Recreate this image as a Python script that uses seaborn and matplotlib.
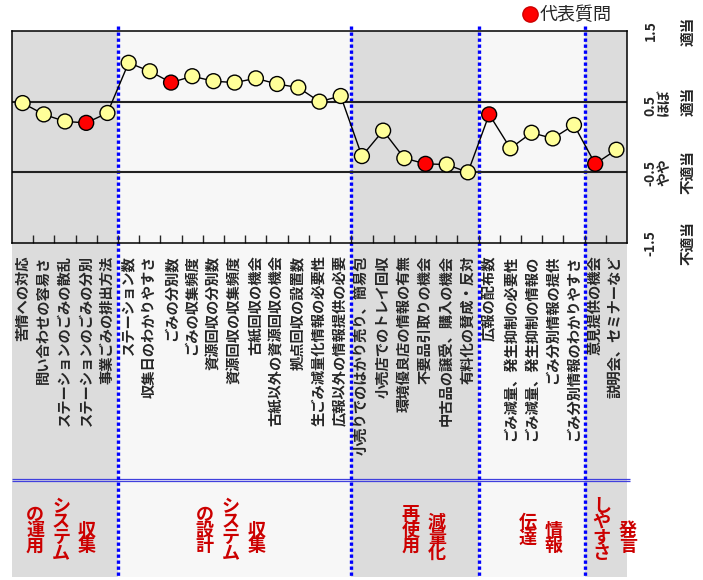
import numpy as np
import pandas as pd
import seaborn as sns
import matplotlib.pyplot as plt
from matplotlib.lines import Line2D

# questionnaire items (x axis), in plotting order
items = [
    "苦情への対応", "問い合わせの容易さ", "ステーションのごみの散乱", "ステーションのごみの分別", "事業ごみの排出方法",
    "ステーション数", "収集日のわかりやすさ", "ごみの分別数", "ごみの収集頻度", "資源回収の分別数",
    "資源回収の収集頻度", "古紙回収の機会", "古紙以外の資源回収の機会", "拠点回収の設置数",
    "生ごみ減量化情報の必要性", "広報以外の情報提供の必要",
    "小売りでのはかり売り、簡易包", "小売店でのトレイ回収", "環境優良店の情報の有無", "不要品引取りの機会",
    "中古品の譲受、購入の機会", "有料化の賛成・反対",
    "広報の配布数", "ごみ減量、発生抑制の必要性", "ごみ減量、発生抑制の情報の", "ごみ分別情報の提供",
    "ごみ分別情報のわかりやすさ",
    "意見提供の機会", "説明会、セミナーなど",
]
scores = [
    0.48, 0.32, 0.22, 0.20, 0.34,
    1.05, 0.93, 0.77, 0.86, 0.79, 0.77, 0.83, 0.75, 0.70, 0.50, 0.58,
    -0.27, 0.09, -0.30, -0.38, -0.39, -0.50,
    0.32, -0.16, 0.06, -0.02, 0.17,
    -0.38, -0.18,
]
representative = [
    False, False, False, True, False,
    False, False, True, False, False, False, False, False, False, False, False,
    False, False, False, True, False, False,
    True, False, False, False, False,
    True, False,
]

# groups: vertical label columns (right to left) and number of items
group_columns = [["収集", "システム", "の運用"], ["収集", "システム", "の設計"],
                 ["減量化", "再使用"], ["情報", "伝達"], ["発言", "しやすさ"]]
group_sizes = [5, 11, 6, 5, 2]

scale_ticks = [1.5, 0.5, -0.5, -1.5]
scale_numbers = ["1.5", "0.5\nほぼ", "-0.5\nやや", "-1.5"]
scale_words = ["適当", "適当", "不適当", "不適当"]

sns.set_style("white")
plt.rcParams["font.family"] = ["Noto Sans CJK JP", "DejaVu Sans"]

W, H = 703, 580


def box(x0, y0, x1, y1):
    return [x0 / W, 1 - y1 / H, (x1 - x0) / W, (y1 - y0) / H]


fig = plt.figure(figsize=(W / 100, H / 100), dpi=100)
n = len(items)

# background panel (shading, group separators, group names)
bg = fig.add_axes(box(12, 31, 627, 577))
bg.set_xlim(-0.5, n - 0.5)
bg.set_ylim(577, 31)
bg.axis("off")

ends = np.cumsum(group_sizes) - 0.5
starts = np.concatenate([[-0.5], ends[:-1]])
for i, (s, e) in enumerate(zip(starts, ends)):
    bg.axvspan(s, e, color="#dcdcdc" if i % 2 == 0 else "#f7f7f7", zorder=0, lw=0)
    center = (s + e) / 2
    for j, col in enumerate(group_columns[i]):
        bg.annotate("\n".join(col), xy=(center, 538 if j == 0 else 530),
                    xytext=(22 - 26 * j, 0), textcoords="offset pixels",
                    ha="center", va="center", color="#cc0000", fontsize=13,
                    fontweight="bold", linespacing=0.78)
bg.vlines(ends[:-1], 26, 577, color="#0000ff", lw=2.4, linestyles=(0, (1, 0.8)),
          clip_on=False, zorder=5)
bg.hlines([478.7, 481.3], -0.5, n - 0.35, color="#4040dd", lw=0.9, clip_on=False)

# main chart
ax = fig.add_axes(box(12, 31, 627, 243))
ax.set_facecolor("none")
df = pd.DataFrame({"x": np.arange(n), "score": scores, "rep": representative})
ax.axhline(0.5, color="#222222", lw=1.5, zorder=1)
ax.axhline(-0.5, color="#222222", lw=1.5, zorder=1)
sns.lineplot(data=df, x="x", y="score", color="black", lw=1, ax=ax, zorder=3)
sns.scatterplot(data=df, x="x", y="score", hue="rep",
                palette={False: "#ffff99", True: "#ff0000"},
                s=115, edgecolor="black", linewidth=1, ax=ax, legend=False, zorder=4)
ax.set_xlim(-0.5, n - 0.5)
ax.set_ylim(-1.5, 1.5)
ax.set_xlabel("")
ax.set_ylabel("")
for sp in ax.spines.values():
    sp.set_color("black")
    sp.set_linewidth(1.1)

ax.set_xticks(np.arange(n))
ax.set_xticklabels(items, rotation=90, fontsize=10.3, fontweight="bold")
ax.set_xticks(np.arange(0.5, n - 1, 1), minor=True)
ax.tick_params(axis="x", which="major", length=0, pad=9)
ax.tick_params(axis="x", which="minor", direction="in", length=6, width=1, bottom=True)

ax.yaxis.tick_right()
ax.set_yticks(scale_ticks)
ax.set_yticklabels(scale_numbers, rotation=90, fontsize=10, fontweight="bold",
                   va="center", linespacing=0.95)
ax.tick_params(axis="y", length=0, pad=12)
for t, word in zip(scale_ticks, scale_words):
    ax.text(1.099, t, word, transform=ax.get_yaxis_transform(), rotation=90,
            ha="center", va="center", fontsize=10.5, fontweight="bold")

handle = Line2D([], [], marker="o", color="none", markerfacecolor="#ff0000",
                markeredgecolor="#cc0000", markersize=11, label="代表質問")
fig.legend(handles=[handle], loc="center", bbox_to_anchor=(567 / W, 1 - 15 / H),
           frameon=False, fontsize=13, handletextpad=0.1, handlelength=0.9,
           borderpad=0)

fig.savefig("out.png", dpi=100)
